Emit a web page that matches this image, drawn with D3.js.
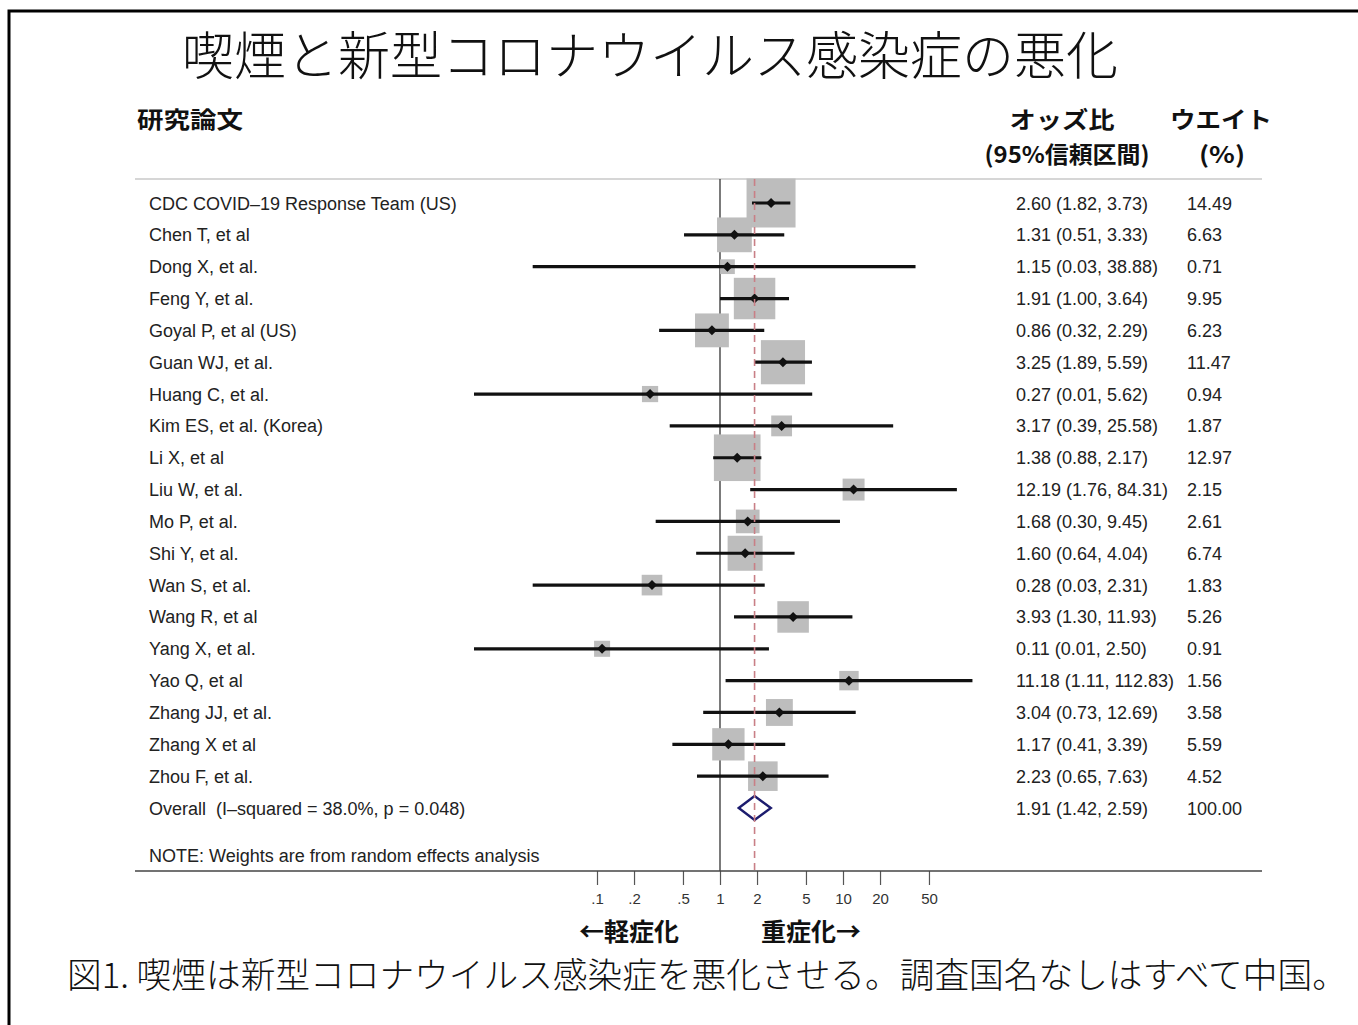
<!DOCTYPE html>
<html>
<head>
<meta charset="utf-8">
<script src="https://cdn.jsdelivr.net/npm/d3@7"></script>
<style>
  html, body { margin: 0; padding: 0; background: #fff; }
  svg { display: block; }
</style>
</head>
<body>
<svg id="chart" width="1358" height="1025"></svg>
<script>
// Studies included in the meta-analysis (smoking vs. COVID-19 progression)
const studies = [
  "CDC COVID\u201319 Response Team (US)", "Chen T, et al", "Dong X, et al.", "Feng Y, et al.",
  "Goyal P, et al (US)", "Guan WJ, et al.", "Huang C, et al.", "Kim ES, et al. (Korea)",
  "Li X, et al", "Liu W, et al.", "Mo P, et al.", "Shi Y, et al.", "Wan S, et al.",
  "Wang R, et al", "Yang X, et al.", "Yao Q, et al", "Zhang JJ, et al.", "Zhang X et al",
  "Zhou F, et al."
];
const oddsRatio = [2.60, 1.31, 1.15, 1.91, 0.86, 3.25, 0.27, 3.17, 1.38, 12.19, 1.68, 1.60, 0.28, 3.93, 0.11, 11.18, 3.04, 1.17, 2.23];
const ciLow     = [1.82, 0.51, 0.03, 1.00, 0.32, 1.89, 0.01, 0.39, 0.88, 1.76, 0.30, 0.64, 0.03, 1.30, 0.01, 1.11, 0.73, 0.41, 0.65];
const ciHigh    = [3.73, 3.33, 38.88, 3.64, 2.29, 5.59, 5.62, 25.58, 2.17, 84.31, 9.45, 4.04, 2.31, 11.93, 2.50, 112.83, 12.69, 3.39, 7.63];
const weights   = [14.49, 6.63, 0.71, 9.95, 6.23, 11.47, 0.94, 1.87, 12.97, 2.15, 2.61, 6.74, 1.83, 5.26, 0.91, 1.56, 3.58, 5.59, 4.52];

// Pooled random-effects estimate
const overallLabel = "Overall  (I\u2013squared = 38.0%, p = 0.048)";
const overallOR = 1.91, overallLow = 1.42, overallHigh = 2.59, overallWeight = 100.00;

const tickValues = [0.1, 0.2, 0.5, 1, 2, 5, 10, 20, 50];
const tickLabels = [".1", ".2", ".5", "1", "2", "5", "10", "20", "50"];

const svg = d3.select("#chart");
const latin = "'Liberation Sans', Arial, Helvetica, sans-serif";
const jp = "'Noto Sans CJK JP', 'Noto Sans', sans-serif";
const fmt = d3.format(".2f");

// Frame (left and top edges)
svg.append("path")
  .attr("d", "M9,1025 V11 H1358")
  .attr("fill", "none").attr("stroke", "#000").attr("stroke-width", 3);

// Title
svg.append("text")
  .attr("x", 650).attr("y", 75)
  .attr("text-anchor", "middle")
  .attr("font-family", jp).attr("font-weight", 300)
  .attr("font-size", 52).attr("fill", "#111")
  .text("喫煙と新型コロナウイルス感染症の悪化");

// Column headers
const hdr = svg.append("g").attr("font-family", jp).attr("font-weight", 700)
  .attr("font-size", 23).attr("fill", "#111")
  .attr("lengthAdjust", "spacingAndGlyphs");
const headers = [
  { t: "研究論文",       x: 137,  y: 128, w: 106, anchor: "start" },
  { t: "オッズ比",       x: 1062, y: 128, w: 105, anchor: "middle" },
  { t: "(95%信頼区間)",  x: 1067, y: 163, w: 165, anchor: "middle" },
  { t: "ウエイト",       x: 1221, y: 128, w: 102, anchor: "middle" },
  { t: "(%)",            x: 1222, y: 163, w: 46,  anchor: "middle" }
];
hdr.selectAll("text").data(headers).join("text")
  .attr("x", d => d.x).attr("y", d => d.y)
  .attr("text-anchor", d => d.anchor)
  .attr("textLength", d => d.w).attr("lengthAdjust", "spacingAndGlyphs")
  .text(d => d.t);

// Scales
const x = d3.scaleLog().domain([0.1, 10]).range([597, 843]);
const rows = d3.range(studies.length + 1);
const y = d3.scalePoint().domain(rows).range([203, 808]);
const side = d3.scaleSqrt().domain([0, d3.max(weights)]).range([5, 49]);

const plotTop = 179, plotBottom = 871;

// Top rule
svg.append("line")
  .attr("x1", 135).attr("x2", 1262).attr("y1", plotTop).attr("y2", plotTop)
  .attr("stroke", "#c8c8c8").attr("stroke-width", 1.5);

// Line of no effect
svg.append("line")
  .attr("x1", x(1)).attr("x2", x(1)).attr("y1", plotTop).attr("y2", plotBottom)
  .attr("stroke", "#333").attr("stroke-width", 1.3);

// Weight boxes
svg.append("g").selectAll("rect")
  .data(studies.map((s, i) => i))
  .join("rect")
  .attr("x", i => x(oddsRatio[i]) - side(weights[i]) / 2)
  .attr("y", i => y(i) - side(weights[i]) / 2)
  .attr("width", i => side(weights[i]))
  .attr("height", i => side(weights[i]))
  .attr("fill", "#bdbdbd");

// Pooled estimate line (dashed)
const overallLine = svg.append("line")
  .attr("x1", x(overallOR)).attr("x2", x(overallOR))
  .attr("y1", plotTop).attr("y2", plotBottom)
  .attr("stroke", "#c97f86").attr("stroke-width", 1.6)
  .attr("stroke-dasharray", "7,5");

// Confidence intervals
svg.append("g").selectAll("line")
  .data(studies.map((s, i) => i))
  .join("line")
  .attr("x1", i => x(ciLow[i])).attr("x2", i => x(ciHigh[i]))
  .attr("y1", i => y(i)).attr("y2", i => y(i))
  .attr("stroke", "#111").attr("stroke-width", 3.2);

// Point estimates (small rotated squares)
svg.append("g").selectAll("path")
  .data(studies.map((s, i) => i))
  .join("path")
  .attr("transform", i => `translate(${x(oddsRatio[i])},${y(i)}) rotate(45)`)
  .attr("d", d3.symbol(d3.symbolSquare, 50))
  .attr("fill", "#111");

// Overall diamond
const oy = y(studies.length);
svg.append("path")
  .attr("d", `M${x(overallLow)},${oy} L${x(overallOR)},${oy - 12} L${x(overallHigh)},${oy} L${x(overallOR)},${oy + 12} Z`)
  .attr("fill", "none").attr("stroke", "#1c1c6e").attr("stroke-width", 2.4);
overallLine.raise();

// Study labels
const lab = svg.append("g").attr("font-family", latin).attr("font-size", 18).attr("fill", "#222");
lab.selectAll("text.study")
  .data(studies.concat([overallLabel]))
  .join("text").attr("class", "study")
  .attr("x", 149).attr("y", (d, i) => y(i) + 6.5)
  .attr("xml:space", "preserve").style("white-space", "pre")
  .text(d => d);

lab.append("text").attr("x", 149).attr("y", 862)
  .text("NOTE: Weights are from random effects analysis");

// Odds ratio (95% CI) and weight columns
const orText = studies.map((s, i) => `${fmt(oddsRatio[i])} (${fmt(ciLow[i])}, ${fmt(ciHigh[i])})`)
  .concat([`${fmt(overallOR)} (${fmt(overallLow)}, ${fmt(overallHigh)})`]);
const wText = weights.map(fmt).concat([fmt(overallWeight)]);

lab.selectAll("text.or")
  .data(orText).join("text").attr("class", "or")
  .attr("x", 1016).attr("y", (d, i) => y(i) + 6.5)
  .text(d => d);
lab.selectAll("text.w")
  .data(wText).join("text").attr("class", "w")
  .attr("x", 1187).attr("y", (d, i) => y(i) + 6.5)
  .text(d => d);

// Bottom axis
const axis = d3.axisBottom(x)
  .tickValues(tickValues)
  .tickFormat((d, i) => tickLabels[i])
  .tickSize(14).tickSizeOuter(0).tickPadding(8);
const ax = svg.append("g").attr("transform", `translate(0,${plotBottom})`).call(axis);
ax.select(".domain").remove();
ax.selectAll(".tick line").attr("stroke", "#555").attr("stroke-width", 1.2);
ax.selectAll(".tick text").attr("font-family", latin).attr("font-size", 15).attr("fill", "#333");
svg.append("line")
  .attr("x1", 135).attr("x2", 1262).attr("y1", plotBottom).attr("y2", plotBottom)
  .attr("stroke", "#444").attr("stroke-width", 1.3);

// Direction labels
const dir = svg.append("g").attr("font-family", jp).attr("font-weight", 700)
  .attr("font-size", 25).attr("fill", "#111");
dir.append("text").attr("x", 629).attr("y", 941).attr("text-anchor", "middle").text("←軽症化");
dir.append("text").attr("x", 811).attr("y", 941).attr("text-anchor", "middle").text("重症化→");

// Caption
svg.append("text")
  .attr("x", 67).attr("y", 988)
  .attr("font-family", jp).attr("font-weight", 300)
  .attr("font-size", 34.7).attr("fill", "#111")
  .attr("xml:space", "preserve").style("white-space", "pre")
  .text("図1. 喫煙は新型コロナウイルス感染症を悪化させる。調査国名なしはすべて中国。");
</script>
</body>
</html>
